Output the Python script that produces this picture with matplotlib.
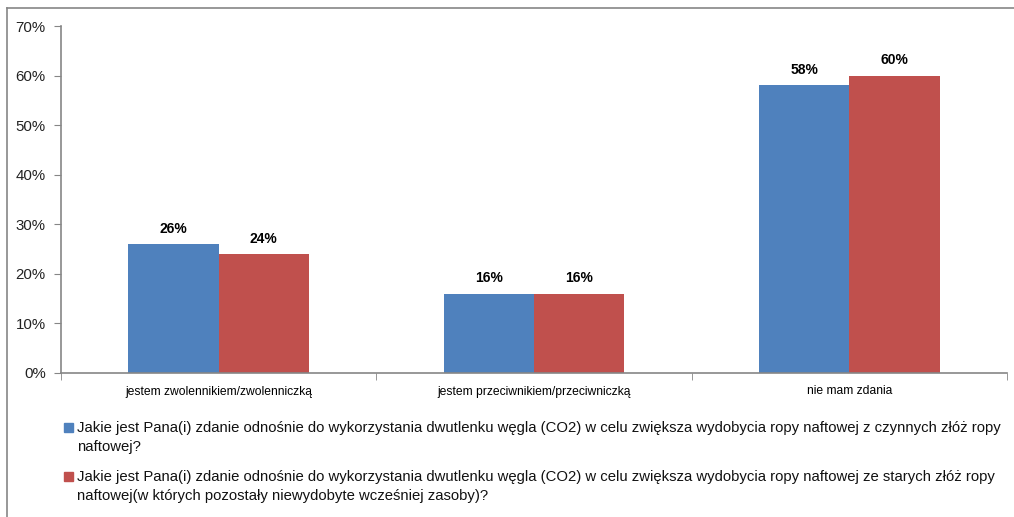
import numpy as np
import matplotlib.pyplot as plt
from matplotlib.patches import Rectangle
from matplotlib.lines import Line2D

# data
categories = ['jestem zwolennikiem/zwolenniczką', 'jestem przeciwnikiem/przeciwniczką', 'nie mam zdania']
active_fields = [26, 16, 58]
old_fields = [24, 16, 60]
series_labels = [
    'Jakie jest Pana(i) zdanie odnośnie do wykorzystania dwutlenku węgla (CO2) w celu zwiększa wydobycia ropy naftowej z czynnych złóż ropy\nnaftowej?',
    'Jakie jest Pana(i) zdanie odnośnie do wykorzystania dwutlenku węgla (CO2) w celu zwiększa wydobycia ropy naftowej ze starych złóż ropy\nnaftowej(w których pozostały niewydobyte wcześniej zasoby)?',
]
yticks = [0, 10, 20, 30, 40, 50, 60, 70]

blue = '#4f81bd'
red = '#c0504d'
gray = '#868686'

plt.rcParams['font.family'] = ['Liberation Sans', 'DejaVu Sans']

W, H = 1014, 517
fig = plt.figure(figsize=(W / 100, H / 100), dpi=100)
ax = fig.add_axes([61 / W, 1 - 373 / H, 946 / W, 347 / H])

x = np.arange(len(categories))
w = 0.286
b1 = ax.bar(x - w / 2, active_fields, w, color=blue)
b2 = ax.bar(x + w / 2, old_fields, w, color=red)

for bars in (b1, b2):
    for r in bars:
        ax.text(r.get_x() + r.get_width() / 2, r.get_height() + 1.7, f'{r.get_height():.0f}%',
                ha='center', va='bottom', fontsize=10, fontweight='bold')

ax.set_xlim(-0.5, 2.5)
ax.set_ylim(0, 70)
ax.set_yticks(yticks)
ax.set_yticklabels([f'{v}%' for v in yticks], fontsize=10.8, color='#222222')
ax.set_xticks(x)
ax.set_xticklabels(categories, fontsize=8.7)
ax.set_xticks([-0.5, 0.5, 1.5, 2.5], minor=True)
ax.tick_params(axis='x', which='major', length=0, pad=9)
ax.tick_params(axis='x', which='minor', length=5, color=gray, direction='out')
ax.tick_params(axis='y', length=5, color=gray, direction='out', pad=6)
for s in ['top', 'right']:
    ax.spines[s].set_visible(False)
for s in ['left', 'bottom']:
    ax.spines[s].set_color(gray)
    ax.spines[s].set_linewidth(1.2)

# legend below the plot
colors = [blue, red]
tops = [421, 470]
for lbl, c, top in zip(series_labels, colors, tops):
    fig.add_artist(Rectangle((64 / W, 1 - (top + 10.5) / H), 8.5 / W, 8.5 / H,
                             transform=fig.transFigure, color=c))
    fig.text(77 / W, 1 - top / H, lbl, fontsize=10.7, va='top', ha='left',
             linespacing=1.45, color='#111111')

# outer frame (only left and top edges visible)
fig.add_artist(Line2D([7 / W, 7 / W], [0, 1 - 8 / H], transform=fig.transFigure,
                      color=gray, lw=1.2))
fig.add_artist(Line2D([7 / W, 1], [1 - 8 / H, 1 - 8 / H], transform=fig.transFigure,
                      color=gray, lw=1.2))

fig.savefig('out.png', dpi=100)
